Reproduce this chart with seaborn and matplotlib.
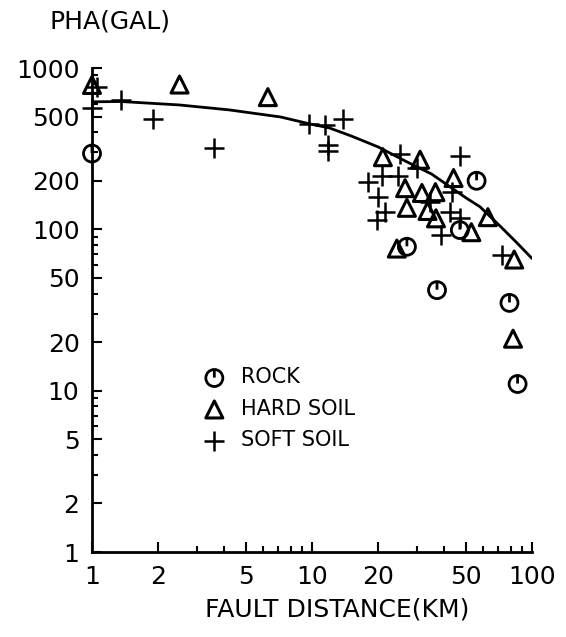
import matplotlib
matplotlib.use("Agg")
import pandas as pd
import matplotlib.pyplot as plt
from matplotlib.path import Path
from matplotlib.ticker import NullFormatter
import seaborn as sns

# --- values ---
rock_dist = [1.0, 27, 37, 47, 56, 79, 86]
rock_pha = [295, 78, 42, 99, 200, 35, 11]

hard_dist = [1.0, 2.5, 6.3, 21, 24.3, 26.5, 27, 31, 31.6, 33.5, 36.4, 36.6, 44, 53, 63, 83, 82]
hard_pha = [785, 790, 660, 280, 76, 180, 136, 270, 168, 130, 170, 117, 208, 96, 119, 65, 21]

soft_dist = [1.05, 1.0, 1.36, 1.9, 3.6, 9.7, 11.5, 13.8, 11.8, 11.8, 18, 20, 19.7, 21.5,
             20.8, 24.6, 25, 30, 34.5, 38.5, 42.4, 43.3, 47, 47, 73]
soft_pha = [765, 565, 630, 480, 320, 450, 445, 480, 335, 305, 197, 158, 114, 128,
            215, 215, 295, 240, 148, 92, 128, 171, 117, 285, 69]

curve_dist = [1.0, 1.35, 2.5, 4.2, 7.2, 9.8, 12, 15, 20, 27, 35, 50, 58, 72, 85, 100]
curve_pha = [617, 620, 590, 550, 497, 450, 425, 380, 324, 262, 220, 157, 138, 104, 83, 66]

x_ticks = [1, 2, 5, 10, 20, 50, 100]
y_ticks = [1, 2, 5, 10, 20, 50, 100, 200, 500, 1000]

df = pd.concat([
    pd.DataFrame({"dist": rock_dist, "pha": rock_pha, "site": "ROCK"}),
    pd.DataFrame({"dist": hard_dist, "pha": hard_pha, "site": "HARD SOIL"}),
    pd.DataFrame({"dist": soft_dist, "pha": soft_pha, "site": "SOFT SOIL"}),
])
curve = pd.DataFrame({"dist": curve_dist, "pha": curve_pha})

sns.set_style("ticks")
plt.rcParams["font.family"] = ["DejaVu Sans"]
plt.rcParams["text.color"] = "black"
plt.rcParams["axes.labelcolor"] = "black"

# plotter-style circle with a tick from the top
rock_marker = Path.make_compound_path(
    Path.unit_circle(),
    Path([[0, 1], [0, 0.05]], [Path.MOVETO, Path.LINETO]),
)

fig = plt.figure(figsize=(5.66, 6.37), dpi=100)
ax = fig.add_axes([92 / 566, 85 / 637, 440 / 566, 484 / 637])

sns.lineplot(data=curve, x="dist", y="pha", color="black", linewidth=2,
             estimator=None, sort=False, ax=ax)

sns.scatterplot(data=df[df.site == "ROCK"], x="dist", y="pha", marker=rock_marker,
                s=150, facecolor="none", edgecolor="black", linewidth=2,
                label="ROCK", clip_on=False, ax=ax)
sns.scatterplot(data=df[df.site == "HARD SOIL"], x="dist", y="pha", marker="^",
                s=150, facecolor="none", edgecolor="black", linewidth=2.2,
                label="HARD SOIL", clip_on=False, ax=ax)
sns.scatterplot(data=df[df.site == "SOFT SOIL"], x="dist", y="pha", marker="+",
                s=200, color="black", linewidth=1.8,
                label="SOFT SOIL", clip_on=False, ax=ax)

ax.set_xscale("log")
ax.set_yscale("log")
ax.set_xlim(1, 100)
ax.set_ylim(1, 1000)
ax.set_xticks(x_ticks)
ax.set_xticklabels([str(t) for t in x_ticks])
ax.set_yticks(y_ticks)
ax.set_yticklabels([str(t) for t in y_ticks])
ax.xaxis.set_minor_formatter(NullFormatter())
ax.yaxis.set_minor_formatter(NullFormatter())

sns.despine(ax=ax)
for side in ["left", "bottom"]:
    ax.spines[side].set_linewidth(2)
    ax.spines[side].set_color("black")
ax.tick_params(which="major", direction="in", length=7, width=1.5,
               colors="black", labelsize=18, pad=9)
ax.tick_params(which="minor", direction="in", length=4, width=1.5, colors="black")

ax.set_xlabel("FAULT DISTANCE(KM)", fontsize=18, color="black")
ax.xaxis.set_label_coords((337 - 92) / 440, (552 - 597) / 484)
ax.set_ylabel("PHA(GAL)", fontsize=18, rotation=0, ha="center", va="center",
              color="black")
ax.yaxis.set_label_coords((110 - 92) / 440, (552 - 21) / 484)

leg = ax.legend(frameon=False, loc="upper left", bbox_to_anchor=(0.207, 0.42),
                fontsize=15, handlelength=1.2, handletextpad=0.7, labelspacing=0.55,
                borderpad=0.4)
for t in leg.get_texts():
    t.set_color("black")

plt.savefig("out.png", dpi=100)
